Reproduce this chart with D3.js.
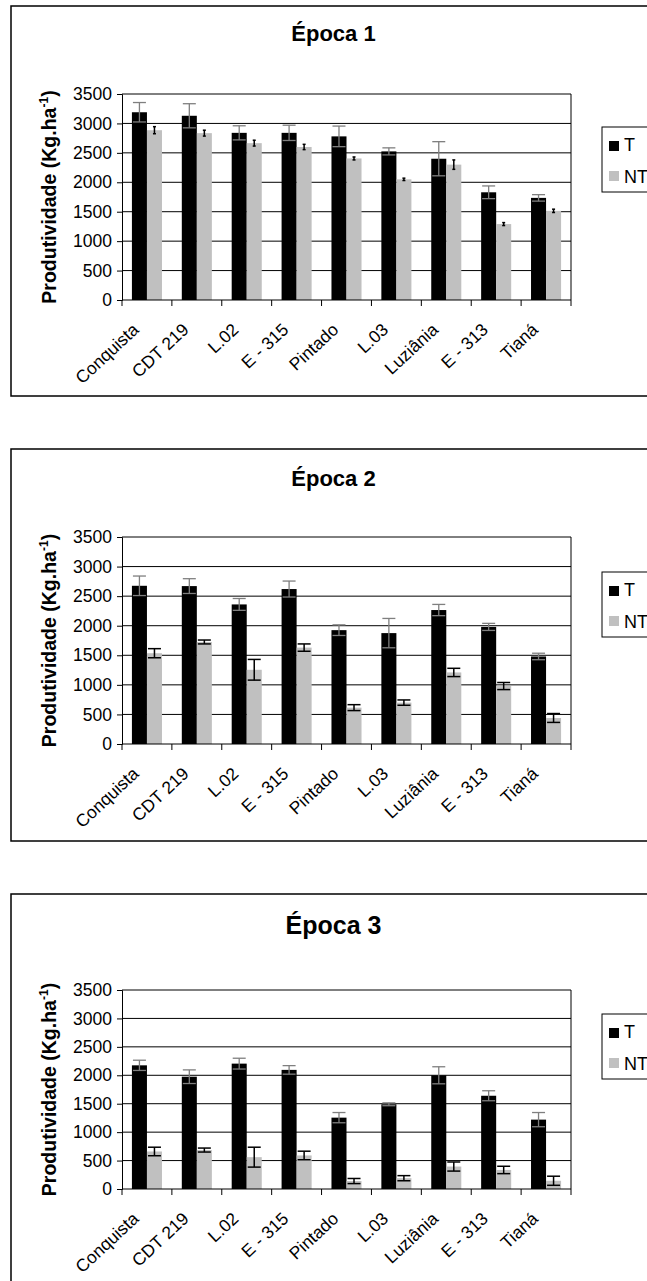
<!DOCTYPE html>
<html>
<head>
<meta charset="utf-8">
<script src="https://cdn.jsdelivr.net/npm/d3@7"></script>
<style>
  html, body { margin: 0; padding: 0; background: #fff; }
  svg { display: block; font-family: "Liberation Sans", Arial, sans-serif; }
</style>
</head>
<body>
<svg id="chart" width="647" height="1281"></svg>
<script>
// ---- DATA ----
const categories = ["Conquista", "CDT 219", "L.02", "E - 315", "Pintado", "L.03", "Luziânia", "E - 313", "Tianá"];
const yTicks = [0, 500, 1000, 1500, 2000, 2500, 3000, 3500];
const seriesNames = ["T", "NT"];
const titles = ["Época 1", "Época 2", "Época 3"];

const epoca1T     = [3190, 3130, 2840, 2840, 2780, 2525, 2400, 1830, 1735];
const epoca1TErr  = [165, 205, 120, 130, 175, 60, 290, 108, 55];
const epoca1NT    = [2885, 2835, 2665, 2600, 2405, 2050, 2300, 1290, 1515];
const epoca1NTErr = [60, 50, 50, 45, 25, 20, 80, 25, 28];

const epoca2T     = [2675, 2670, 2360, 2620, 1925, 1875, 2265, 1980, 1480];
const epoca2TErr  = [165, 125, 100, 135, 90, 248, 95, 60, 55];
const epoca2NT    = [1535, 1725, 1255, 1630, 615, 700, 1210, 980, 440];
const epoca2NTErr = [77, 33, 175, 62, 50, 45, 70, 60, 75];

const epoca3T     = [2175, 1975, 2205, 2095, 1255, 1490, 2000, 1640, 1220];
const epoca3TErr  = [90, 120, 95, 75, 90, 25, 150, 88, 125];
const epoca3NT    = [660, 685, 560, 590, 140, 190, 395, 335, 145];
const epoca3NTErr = [75, 35, 175, 75, 45, 45, 80, 65, 80];

// ---- LAYOUT ----
const panels = [
  { T: epoca1T, TE: epoca1TErr, NT: epoca1NT, NTE: epoca1NTErr, frameTop: 6,   frameBottom: 396,  plotTop: 94,  plotBottom: 300,  titleY: 41,  titleSize: 22, legendTop: 127,  ntCap: 1.5 },
  { T: epoca2T, TE: epoca2TErr, NT: epoca2NT, NTE: epoca2NTErr, frameTop: 449, frameBottom: 841,  plotTop: 537, plotBottom: 744,  titleY: 486, titleSize: 22, legendTop: 572,  ntCap: 6.5 },
  { T: epoca3T, TE: epoca3TErr, NT: epoca3NT, NTE: epoca3NTErr, frameTop: 894, frameBottom: 1290, plotTop: 990, plotBottom: 1189, titleY: 934, titleSize: 25, legendTop: 1014, ntCap: 6.5 }
];

const plotLeft = 122, plotRight = 571;
const frameLeft = 11, frameRight = 656;
const colors = { T: "#000000", NT: "#c0c0c0" };

const svg = d3.select("#chart");

panels.forEach((p, pi) => {
  const g = svg.append("g");

  // frame
  g.append("rect")
    .attr("x", frameLeft).attr("y", p.frameTop)
    .attr("width", frameRight - frameLeft).attr("height", p.frameBottom - p.frameTop)
    .attr("fill", "#fff").attr("stroke", "#000").attr("stroke-width", 1.5);

  // title
  g.append("text")
    .attr("x", (frameLeft + frameRight) / 2).attr("y", p.titleY)
    .attr("text-anchor", "middle")
    .attr("font-weight", "bold").attr("font-size", p.titleSize)
    .text(titles[pi]);

  const x0 = d3.scaleBand().domain(categories).range([plotLeft, plotRight]).paddingInner(0).paddingOuter(0);
  const x1 = d3.scaleBand().domain(seriesNames).range([0, x0.bandwidth()]).paddingInner(0).paddingOuter(0.66);
  const y = d3.scaleLinear().domain([0, 3500]).range([p.plotBottom, p.plotTop]);

  // gridlines
  g.append("g").selectAll("line").data(yTicks.filter(t => t > 0)).join("line")
    .attr("x1", plotLeft).attr("x2", plotRight)
    .attr("y1", d => y(d)).attr("y2", d => y(d))
    .attr("stroke", "#000").attr("stroke-width", 1);

  // right border
  g.append("line")
    .attr("x1", plotRight).attr("x2", plotRight)
    .attr("y1", p.plotTop).attr("y2", p.plotBottom)
    .attr("stroke", "#000").attr("stroke-width", 1);

  // bars
  const rows = categories.map((c, i) => ({ c, i }));
  const grp = g.append("g").selectAll("g").data(rows).join("g")
    .attr("transform", d => `translate(${x0(d.c)},0)`);

  seriesNames.forEach(s => {
    const vals = s === "T" ? p.T : p.NT;
    grp.append("rect")
      .attr("x", x1(s)).attr("width", x1.bandwidth())
      .attr("y", d => y(vals[d.i])).attr("height", d => y(0) - y(vals[d.i]))
      .attr("fill", colors[s]);
  });

  // error bars
  seriesNames.forEach(s => {
    const vals = s === "T" ? p.T : p.NT;
    const errs = s === "T" ? p.TE : p.NTE;
    const col = s === "T" ? "#7f7f7f" : "#000";
    const cap = s === "T" ? 6.5 : p.ntCap;
    const sw = s === "T" ? 1.3 : 1.5;
    const cx = x1(s) + x1.bandwidth() / 2;
    grp.append("line")
      .attr("x1", cx).attr("x2", cx)
      .attr("y1", d => y(vals[d.i] + errs[d.i])).attr("y2", d => y(vals[d.i] - errs[d.i]))
      .attr("stroke", col).attr("stroke-width", sw);
    [1, -1].forEach(sign => {
      grp.append("line")
        .attr("x1", cx - cap).attr("x2", cx + cap)
        .attr("y1", d => y(vals[d.i] + sign * errs[d.i])).attr("y2", d => y(vals[d.i] + sign * errs[d.i]))
        .attr("stroke", col).attr("stroke-width", sw);
    });
  });

  // y axis
  const yAxis = d3.axisLeft(y).tickValues(yTicks).tickSize(5).tickPadding(5).tickFormat(d3.format("d"));
  const ya = g.append("g").attr("transform", `translate(${plotLeft},0)`).call(yAxis);
  ya.select(".domain").attr("stroke", "#000").attr("stroke-width", 1);
  ya.selectAll(".tick line").attr("stroke", "#000");
  ya.selectAll(".tick text").attr("font-size", 17.5).attr("font-family", "Liberation Sans, Arial, sans-serif").attr("fill", "#000");

  // x axis
  const xa = g.append("g").attr("transform", `translate(0,${p.plotBottom})`);
  xa.append("line").attr("x1", plotLeft).attr("x2", plotRight).attr("y1", 0).attr("y2", 0)
    .attr("stroke", "#000").attr("stroke-width", 1);
  const bounds = categories.map(c => x0(c)).concat([plotRight]);
  xa.selectAll("line.tk").data(bounds).join("line").attr("class", "tk")
    .attr("x1", d => d).attr("x2", d => d).attr("y1", 0).attr("y2", 6)
    .attr("stroke", "#000");
  xa.selectAll("text").data(categories).join("text")
    .attr("transform", d => `translate(${x0(d) + x0.bandwidth() / 2 - 7},31) rotate(-43)`)
    .attr("text-anchor", "end")
    .attr("font-size", 17.5)
    .text(d => d);

  // y label
  const cy = (p.plotTop + p.plotBottom) / 2;
  const yl = g.append("text")
    .attr("transform", `translate(56,${cy}) rotate(-90)`)
    .attr("text-anchor", "middle")
    .attr("font-weight", "bold").attr("font-size", 19.5);
  yl.append("tspan").text("Produtividade (Kg.ha");
  yl.append("tspan").attr("font-size", 12).attr("dy", "-0.7em").text("-1");
  yl.append("tspan").attr("dy", "0.45em").text(")");

  // legend
  const lt = p.legendTop;
  const lg = g.append("g");
  lg.append("rect").attr("x", 602).attr("y", lt).attr("width", 80).attr("height", 65)
    .attr("fill", "#fff").attr("stroke", "#000").attr("stroke-width", 1);
  seriesNames.forEach((s, k) => {
    const yy = lt + 14 + k * 30;
    lg.append("rect").attr("x", 609).attr("y", yy).attr("width", 10).attr("height", 10).attr("fill", colors[s]);
    lg.append("text").attr("x", 624).attr("y", yy + 10 + k * 2).attr("font-size", 18).text(s);
  });
});
</script>
</body>
</html>
